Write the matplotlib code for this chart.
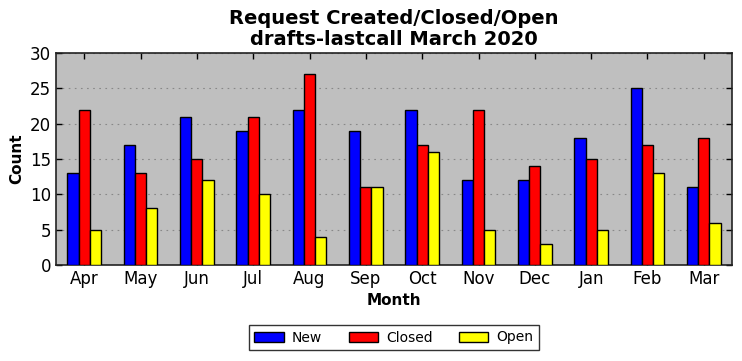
import matplotlib
matplotlib.use("Agg")
import matplotlib.pyplot as plt
import numpy as np

months = ["Apr", "May", "Jun", "Jul", "Aug", "Sep", "Oct", "Nov", "Dec", "Jan", "Feb", "Mar"]
new_vals = [13, 17, 21, 19, 22, 19, 22, 12, 12, 18, 25, 11]
closed_vals = [22, 13, 15, 21, 27, 11, 17, 22, 14, 15, 17, 18]
open_vals = [5, 8, 12, 10, 4, 11, 16, 5, 3, 5, 13, 6]

fig = plt.figure(figsize=(7.42, 3.61), dpi=100, facecolor="white")
ax = fig.add_axes([56/742, 1-265/361, (732-56)/742, (265-53)/361])
ax.set_facecolor("#bfbfbf")

x = np.arange(len(months))
w = 0.2
ax.bar(x - w, new_vals, w, color="#0000ff", edgecolor="black", linewidth=1, label="New", zorder=3)
ax.bar(x, closed_vals, w, color="#ff0000", edgecolor="black", linewidth=1, label="Closed", zorder=3)
ax.bar(x + w, open_vals, w, color="#ffff00", edgecolor="black", linewidth=1, label="Open", zorder=3)

ax.set_xlim(-0.5, len(months) - 0.5)
ax.set_ylim(0, 30)
ax.set_yticks(range(0, 31, 5))
ax.set_xticks(x)
ax.set_xticklabels(months)
ax.tick_params(direction="in", top=True, right=True, labelsize=12, length=4, width=1)
ax.yaxis.grid(True, linestyle=(0, (1.5, 4)), color="#888888", linewidth=0.8, zorder=0)
ax.set_axisbelow(True)
for s in ax.spines.values():
    s.set_linewidth(1.2)
    s.set_color("#222222")

ax.set_xlabel("Month", fontsize=11, fontweight="bold")
ax.set_ylabel("Count", fontsize=11, fontweight="bold")
ax.set_title("Request Created/Closed/Open\ndrafts-lastcall March 2020", fontsize=14, fontweight="bold", linespacing=1.1)

leg = ax.legend(loc="upper center", bbox_to_anchor=(0.5, -0.25), ncol=3, fontsize=10,
                frameon=True, fancybox=False, edgecolor="black", handlelength=2.1,
                handletextpad=0.6, columnspacing=1.9, borderpad=0.4)
leg.get_frame().set_linewidth(1.0)

fig.savefig("out.png", dpi=100, facecolor="white")
